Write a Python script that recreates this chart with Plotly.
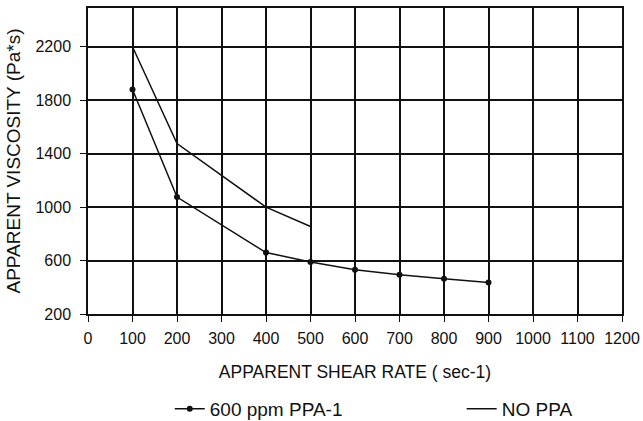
import plotly.graph_objects as go

shear_ppa = [100, 200, 400, 500, 600, 700, 800, 900]
visc_ppa = [1880, 1075, 660, 590, 532, 494, 464, 436]

shear_none = [100, 200, 400, 500]
visc_none = [2200, 1475, 1000, 855]

x_ticks = [0, 100, 200, 300, 400, 500, 600, 700, 800, 900, 1000, 1100, 1200]
y_ticks = [200, 600, 1000, 1400, 1800, 2200]

ink = "#111"
family = "Liberation Sans, Arial, sans-serif"
font = dict(family=family, size=16, color=ink)

data = [
    go.Scatter(x=shear_ppa, y=visc_ppa, name="600 ppm PPA-1",
               mode="lines+markers", legend="legend",
               line=dict(color=ink, width=1.5),
               marker=dict(color=ink, size=6)),
    go.Scatter(x=shear_none, y=visc_none, name="NO PPA",
               mode="lines", legend="legend2",
               line=dict(color=ink, width=1.5)),
]

layout = go.Layout(
    width=643, height=421,
    margin=dict(l=88, r=21, t=8, b=107),
    paper_bgcolor="white", plot_bgcolor="white",
    font=font,
    xaxis=dict(range=[0, 1200], tickvals=x_ticks, automargin=False,
               showgrid=True, gridcolor=ink, gridwidth=1.5,
               showline=True, linecolor=ink, linewidth=1.5, mirror=True,
               ticks="outside", ticklen=6, tickcolor=ink,
               ticklabelstandoff=3, zeroline=False,
               title=dict(text="APPARENT SHEAR RATE ( sec-1)", standoff=20,
                          font=dict(family=family, size=17.5, color=ink))),
    yaxis=dict(range=[200, 2490], tickvals=y_ticks, automargin=False,
               showgrid=True, gridcolor=ink, gridwidth=1.5,
               showline=True, linecolor=ink, linewidth=1.5, mirror=True,
               ticks="outside", ticklen=6, tickcolor=ink,
               ticklabelstandoff=6, zeroline=False,
               title=dict(text="APPARENT VISCOSITY (Pa*s)", standoff=10,
                          font=dict(family=family, size=19, color=ink))),
    showlegend=True,
    legend=dict(orientation="h", xref="container", yref="container",
                x=0.264, xanchor="left", y=0.074, yanchor="top",
                font=dict(family=family, size=19, color=ink),
                bgcolor="rgba(0,0,0,0)"),
    legend2=dict(orientation="h", xref="container", yref="container",
                 x=0.718, xanchor="left", y=0.074, yanchor="top",
                 font=dict(family=family, size=19, color=ink),
                 bgcolor="rgba(0,0,0,0)"),
)

fig = go.Figure(data=data, layout=layout)
# drop the default body margin so the figure fills the window exactly
fig.write_html("out.html", config={"displayModeBar": False},
               post_script="document.body.style.margin='0';")
